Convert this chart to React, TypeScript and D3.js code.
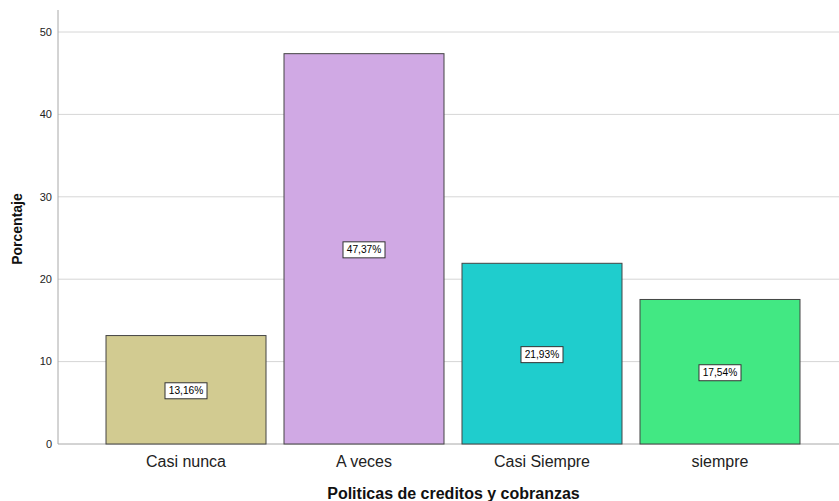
import React from "react";
import * as d3 from "d3";

const categories = ["Casi nunca", "A veces", "Casi Siempre", "siempre"];
const percentages = [13.16, 47.37, 21.93, 17.54];
const barColors = ["#D2CB91", "#D0A9E4", "#1FCDCD", "#42E883"];
const yTicks = [0, 10, 20, 30, 40, 50];
const yLabel = "Porcentaje";
const xLabel = "Politicas de creditos y cobranzas";

const W = 839;
const H = 501;
const FONT = "'Liberation Sans', Arial, sans-serif";

export default function App() {
  const x = d3
    .scaleBand<string>()
    .domain(categories)
    .range([58, 848])
    .paddingInner(0.1011)
    .paddingOuter(0.2697);
  const y = d3.scaleLinear().domain([0, 50]).range([444, 32]);

  const fmt = (v: number) => v.toFixed(2).replace(".", ",") + "%";

  return (
    <svg
      width={W}
      height={H}
      style={{ position: "absolute", left: 0, top: 0, background: "#fff" }}
      fontFamily={FONT}
    >
      {/* gridlines */}
      {yTicks.map((t) => (
        <line
          key={"g" + t}
          x1={58}
          x2={W}
          y1={y(t)}
          y2={y(t)}
          stroke={t === 0 ? "#a8a8a8" : "#d6d6d6"}
          strokeWidth={1}
        />
      ))}
      {/* y axis */}
      <line x1={58} x2={58} y1={10} y2={444} stroke="#a8a8a8" strokeWidth={1} />
      {yTicks.map((t) => (
        <text
          key={"t" + t}
          x={52}
          y={y(t)}
          dy="0.35em"
          textAnchor="end"
          fontSize={11}
          fill="#222"
        >
          {t}
        </text>
      ))}
      {/* bars */}
      {categories.map((c, i) => {
        const x0 = x(c)!;
        const bw = x.bandwidth();
        const top = y(percentages[i]);
        const mid = (top + y(0)) / 2;
        const label = fmt(percentages[i]);
        const boxW = 42;
        const boxH = 16;
        return (
          <g key={c}>
            <rect
              x={x0}
              y={top}
              width={bw}
              height={y(0) - top}
              fill={barColors[i]}
              stroke="#444"
              strokeWidth={1}
            />
            <rect
              x={x0 + bw / 2 - boxW / 2}
              y={mid - boxH / 2 + 1}
              width={boxW}
              height={boxH}
              fill="#fff"
              stroke="#333"
              strokeWidth={1}
            />
            <text
              x={x0 + bw / 2}
              y={mid + 1}
              dy="0.35em"
              textAnchor="middle"
              fontSize={10.2}
              fill="#000"
            >
              {label}
            </text>
            <text
              x={x0 + bw / 2}
              y={461}
              dy="0.35em"
              textAnchor="middle"
              fontSize={16}
              fill="#222"
            >
              {c}
            </text>
          </g>
        );
      })}
      {/* axis titles */}
      <text
        x={(58 + 839) / 2 + 5}
        y={493}
        dy="0.35em"
        textAnchor="middle"
        fontSize={16}
        fontWeight="bold"
        fill="#111"
      >
        {xLabel}
      </text>
      <text
        transform={`translate(17, 229) rotate(-90)`}
        dy="0.35em"
        textAnchor="middle"
        fontSize={14}
        fontWeight="bold"
        fill="#111"
      >
        {yLabel}
      </text>
    </svg>
  );
}
